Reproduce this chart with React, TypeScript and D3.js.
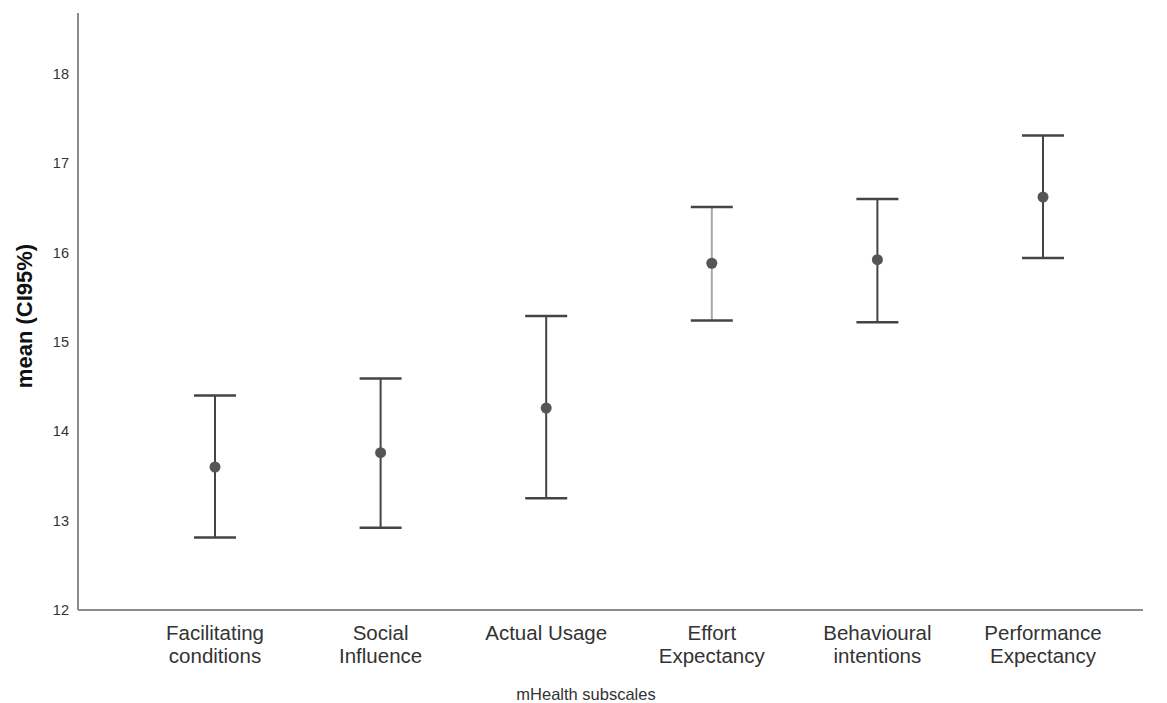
import React from 'react';
import * as d3 from 'd3';

const categories = [
  'Facilitating conditions',
  'Social Influence',
  'Actual Usage',
  'Effort Expectancy',
  'Behavioural intentions',
  'Performance Expectancy',
];
const labelLines = [
  ['Facilitating', 'conditions'],
  ['Social', 'Influence'],
  ['Actual Usage'],
  ['Effort', 'Expectancy'],
  ['Behavioural', 'intentions'],
  ['Performance', 'Expectancy'],
];
const means = [13.6, 13.76, 14.26, 15.88, 15.92, 16.62];
const lower = [12.81, 12.92, 13.25, 15.24, 15.22, 15.94];
const upper = [14.4, 14.59, 15.29, 16.51, 16.6, 17.31];
const yTicks = [12, 13, 14, 15, 16, 17, 18];

const width = 1167;
const height = 703;
const left = 78;
const right = 1143;
const top = 13;
const bottom = 610;

export default function App() {
  const x = d3.scalePoint<string>().domain(categories).range([215, 1043]);
  const y = d3.scaleLinear().domain([12, 18.68]).range([bottom, top]);
  const font = 'Arial, "Liberation Sans", sans-serif';
  const capHalf = 21;

  return (
    <svg width={width} height={height} style={{ position: 'absolute', left: 0, top: 0, background: '#fff' }}>
      <line x1={left} x2={left} y1={top} y2={bottom} stroke="#8c8c8c" strokeWidth={2} />
      <line x1={left} x2={right} y1={bottom} y2={bottom} stroke="#8c8c8c" strokeWidth={2} />
      {yTicks.map(t => (
        <text key={t} x={left - 9} y={y(t)} dy="0.36em" textAnchor="end"
          fontFamily={font} fontSize={14.5} fill="#333">{t}</text>
      ))}
      {categories.map((c, i) => {
        const cx = x(c) as number;
        return (
          <g key={c}>
            <line x1={cx} x2={cx} y1={y(lower[i])} y2={y(upper[i])}
              stroke={i === 3 ? '#a8a8a8' : '#444'} strokeWidth={2} />
            <line x1={cx - capHalf} x2={cx + capHalf} y1={y(upper[i])} y2={y(upper[i])} stroke="#444" strokeWidth={2.5} />
            <line x1={cx - capHalf} x2={cx + capHalf} y1={y(lower[i])} y2={y(lower[i])} stroke="#444" strokeWidth={2.5} />
            <circle cx={cx} cy={y(means[i])} r={5.5} fill="#555" />
            {labelLines[i].map((l, j) => (
              <text key={j} x={cx} y={640 + j * 23} textAnchor="middle"
                fontFamily={font} fontSize={20.5} fill="#333">{l}</text>
            ))}
          </g>
        );
      })}
      <text x={586} y={700} textAnchor="middle" fontFamily={font} fontSize={16.5} fill="#333">mHealth subscales</text>
      <text transform="translate(32,316) rotate(-90)" textAnchor="middle"
        fontFamily={font} fontSize={22} fontWeight="bold" fill="#111">mean (CI95%)</text>
    </svg>
  );
}
